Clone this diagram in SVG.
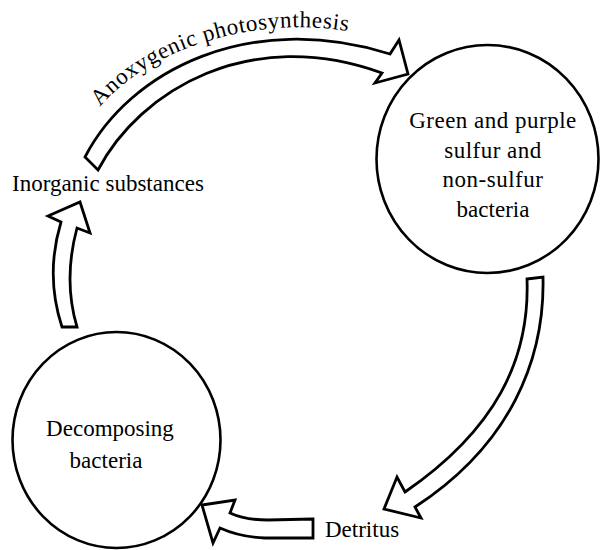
<svg xmlns="http://www.w3.org/2000/svg" width="601" height="550" viewBox="0 0 601 550">
  <style>
    .node { fill: #ffffff; stroke: #000000; stroke-width: 2.6; }
    .flow { fill: #ffffff; stroke: #000000; stroke-width: 2.8; stroke-linejoin: miter; stroke-miterlimit: 10; }
    .lbl { font-family: "Liberation Serif", "Times New Roman", serif; font-size: 23px; fill: #000000; }
    .mid { text-anchor: middle; }
    .arc { letter-spacing: 0.6px; }
    .wide { letter-spacing: 0.5px; }
  </style>
  <defs>
    <path id="labelArc" d="M100,107 C152,45 262,15 352,32"/>
  </defs>
  <rect width="601" height="550" fill="#ffffff"/>

  <!-- block arrows of the cycle -->
  <g id="connectors">
    <path id="arrow-photosynthesis" class="flow" d="M85,157 C130,70 250,10 390,54 L399,40 L408,74 L375,83 L382,73 C250,25 140,90 98,170 Z"/>
    <path id="arrow-to-detritus" class="flow" d="M527,279 L543,277 C545,360 510,445 415,507 L421,518 L384,509 L397,477 L405,492 C495,430 530,360 527,279 Z"/>
    <path id="arrow-to-decomposers" class="flow" d="M313,519 L268,520 Q245,520 230,513 L235,500 L202,505 L213,543 L220,528 Q240,537 265,538 L313,538 Z"/>
    <path id="arrow-to-inorganic" class="flow" d="M62,327 Q45,275 61,222 L48,216 L80,202 L90,233 L77,228 Q63,280 77,327 Z"/>
    <text class="lbl arc"><textPath href="#labelArc">Anoxygenic photosynthesis</textPath></text>
  </g>

  <g id="bacteria-phototrophs">
    <ellipse class="node" cx="487.5" cy="159" rx="111" ry="114"/>
    <text class="lbl mid wide" x="493" y="128">Green and purple</text>
    <text class="lbl mid wide" x="493" y="157.5">sulfur and</text>
    <text class="lbl mid wide" x="493" y="187">non-sulfur</text>
    <text class="lbl mid" x="493" y="216.5">bacteria</text>
  </g>

  <g id="decomposers">
    <ellipse class="node" cx="116.5" cy="440" rx="104" ry="108"/>
    <text class="lbl mid" x="110" y="436">Decomposing</text>
    <text class="lbl mid" x="106" y="468">bacteria</text>
  </g>

  <g id="inorganic">
    <text class="lbl" x="12" y="191">Inorganic substances</text>
  </g>

  <g id="detritus">
    <text class="lbl" x="325" y="537">Detritus</text>
  </g>
</svg>
